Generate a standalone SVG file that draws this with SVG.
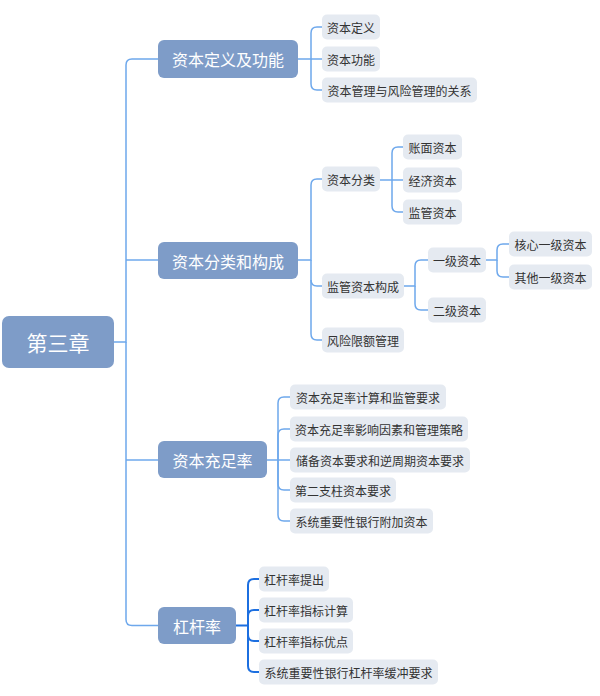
<svg xmlns="http://www.w3.org/2000/svg" width="600" height="696" viewBox="0 0 600 696">
<style>
.root{fill:#7e9cc8}
.l1{fill:#7e9cc8}
.l2{fill:#e5eaf1}
.tr{font-family:"Noto Sans CJK SC","Noto Sans",sans-serif;fill:#ffffff;font-size:21px;text-anchor:middle;dominant-baseline:central}
.t1{font-family:"Noto Sans CJK SC","Noto Sans",sans-serif;fill:#ffffff;font-size:16px;text-anchor:middle;dominant-baseline:central}
.t2{font-family:"Noto Sans CJK SC","Noto Sans",sans-serif;fill:#333333;font-size:12px;text-anchor:middle;dominant-baseline:central}
.c{fill:none;stroke:#6ea8ec;stroke-width:1.5}
.cd{fill:none;stroke:#1c6fe0;stroke-width:2}
</style>
<rect width="600" height="696" fill="#ffffff"/>
<g id="connectors">
<path class="c" d="M114 342 H126 V65 Q126 59 132 59 H158"/>
<path class="c" d="M126 342 V619.5 Q126 625.5 132 625.5 H158"/>
<path class="c" d="M126 260 H158"/>
<path class="c" d="M126 460 H158"/>
<path class="c" d="M298 59 H311 V33 Q311 27 317 27 H322"/>
<path class="c" d="M311 59 H322"/>
<path class="c" d="M311 59 V84 Q311 90 317 90 H322"/>
<path class="c" d="M298 260 H311 V185 Q311 179 317 179 H322"/>
<path class="c" d="M311 260 V280 Q311 286 317 286 H322"/>
<path class="c" d="M311 280 V334 Q311 340 317 340 H322"/>
<path class="c" d="M380 180 H403"/>
<path class="c" d="M392 180 V153 Q392 147 398 147 H403"/>
<path class="c" d="M392 180 V206 Q392 212 398 212 H403"/>
<path class="c" d="M404 286 H415 V266 Q415 260 421 260 H428"/>
<path class="c" d="M415 286 V304 Q415 310 421 310 H428"/>
<path class="c" d="M486 260 H497 V250 Q497 244 503 244 H509"/>
<path class="c" d="M497 260 V271 Q497 277 503 277 H509"/>
<path class="c" d="M267 460 H290"/>
<path class="c" d="M278 460 V403 Q278 397 284 397 H290"/>
<path class="c" d="M278 460 V435 Q278 429 284 429 H290"/>
<path class="c" d="M278 460 V484 Q278 490 284 490 H290"/>
<path class="c" d="M278 460 V515 Q278 521 284 521 H290"/>
<path class="cd" d="M236 625.5 H248 V585 Q248 579 254 579 H259"/>
<path class="cd" d="M248 625.5 V616 Q248 610 254 610 H259"/>
<path class="cd" d="M248 625.5 V635 Q248 641 254 641 H259"/>
<path class="cd" d="M248 625.5 V666 Q248 672 254 672 H259"/>
</g>
<g id="root"><rect class="root" x="2" y="316" width="112" height="52" rx="7"/><text class="tr" x="58" y="342">第三章</text></g>
<g id="n1"><rect class="l1" x="158" y="40" width="140" height="38" rx="6"/><text class="t1" x="228" y="59">资本定义及功能</text></g>
<g id="n2"><rect class="l1" x="158" y="242" width="140" height="37" rx="6"/><text class="t1" x="228" y="260.5">资本分类和构成</text></g>
<g id="n3"><rect class="l1" x="158" y="441" width="109" height="37" rx="6"/><text class="t1" x="212.5" y="459.5">资本充足率</text></g>
<g id="n4"><rect class="l1" x="158" y="607" width="78" height="37" rx="6"/><text class="t1" x="197" y="625.5">杠杆率</text></g>
<g id="n1a"><rect class="l2" x="322" y="14.5" width="58" height="25" rx="5"/><text class="t2" x="351" y="27">资本定义</text></g>
<g id="n1b"><rect class="l2" x="322" y="46.5" width="58" height="25" rx="5"/><text class="t2" x="351" y="59">资本功能</text></g>
<g id="n1c"><rect class="l2" x="322" y="77.5" width="155" height="25" rx="5"/><text class="t2" x="399.5" y="90">资本管理与风险管理的关系</text></g>
<g id="n2a"><rect class="l2" x="322" y="166.5" width="58" height="25" rx="5"/><text class="t2" x="351" y="179">资本分类</text></g>
<g id="n2a1"><rect class="l2" x="403" y="134.5" width="59" height="25" rx="5"/><text class="t2" x="432.5" y="147">账面资本</text></g>
<g id="n2a2"><rect class="l2" x="403" y="167.5" width="59" height="25" rx="5"/><text class="t2" x="432.5" y="180">经济资本</text></g>
<g id="n2a3"><rect class="l2" x="403" y="199.5" width="59" height="25" rx="5"/><text class="t2" x="432.5" y="212">监管资本</text></g>
<g id="n2b"><rect class="l2" x="322" y="273.5" width="82" height="25" rx="5"/><text class="t2" x="363" y="286">监管资本构成</text></g>
<g id="n2b1"><rect class="l2" x="428" y="247.5" width="58" height="25" rx="5"/><text class="t2" x="457" y="260">一级资本</text></g>
<g id="n2b2"><rect class="l2" x="428" y="297.5" width="58" height="25" rx="5"/><text class="t2" x="457" y="310">二级资本</text></g>
<g id="n2b1a"><rect class="l2" x="509" y="231.5" width="83" height="25" rx="5"/><text class="t2" x="550.5" y="244">核心一级资本</text></g>
<g id="n2b1b"><rect class="l2" x="509" y="264.5" width="83" height="25" rx="5"/><text class="t2" x="550.5" y="277">其他一级资本</text></g>
<g id="n2c"><rect class="l2" x="322" y="327.5" width="82" height="25" rx="5"/><text class="t2" x="363" y="340">风险限额管理</text></g>
<g id="n3a"><rect class="l2" x="290" y="384.5" width="156" height="25" rx="5"/><text class="t2" x="368" y="397">资本充足率计算和监管要求</text></g>
<g id="n3b"><rect class="l2" x="290" y="416.5" width="178" height="25" rx="5"/><text class="t2" x="379" y="429">资本充足率影响因素和管理策略</text></g>
<g id="n3c"><rect class="l2" x="290" y="447.5" width="180" height="25" rx="5"/><text class="t2" x="380" y="460">储备资本要求和逆周期资本要求</text></g>
<g id="n3d"><rect class="l2" x="290" y="477.5" width="106" height="25" rx="5"/><text class="t2" x="343" y="490">第二支柱资本要求</text></g>
<g id="n3e"><rect class="l2" x="290" y="508.5" width="143" height="25" rx="5"/><text class="t2" x="361.5" y="521">系统重要性银行附加资本</text></g>
<g id="n4a"><rect class="l2" x="259" y="566.5" width="70" height="25" rx="5"/><text class="t2" x="294" y="579">杠杆率提出</text></g>
<g id="n4b"><rect class="l2" x="259" y="597.5" width="94" height="25" rx="5"/><text class="t2" x="306" y="610">杠杆率指标计算</text></g>
<g id="n4c"><rect class="l2" x="259" y="628.5" width="94" height="25" rx="5"/><text class="t2" x="306" y="641">杠杆率指标优点</text></g>
<g id="n4d"><rect class="l2" x="259" y="659.5" width="179" height="25" rx="5"/><text class="t2" x="348.5" y="672">系统重要性银行杠杆率缓冲要求</text></g>
</svg>
